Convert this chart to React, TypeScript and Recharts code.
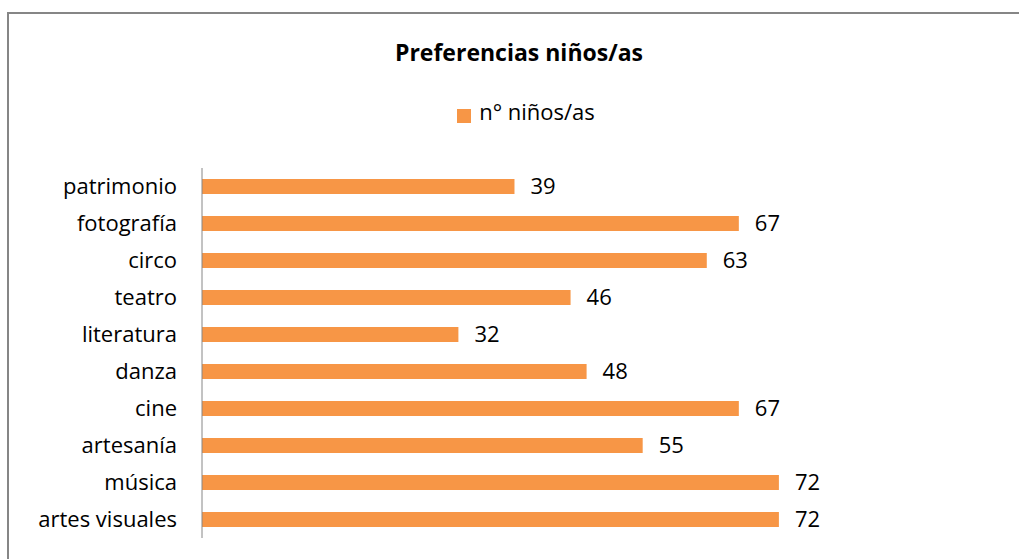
import { BarChart, Bar, XAxis, YAxis, Legend, LabelList } from 'recharts';

const categories = [
  'patrimonio',
  'fotografía',
  'circo',
  'teatro',
  'literatura',
  'danza',
  'cine',
  'artesanía',
  'música',
  'artes visuales',
];
const values = [39, 67, 63, 46, 32, 48, 67, 55, 72, 72];
const seriesName = 'n° niños/as';
const title = 'Preferencias niños/as';

const data = categories.map((c, i) => ({ name: c, value: values[i] }));

const font = '"Open Sans", "DejaVu Sans", sans-serif';

export default function App() {
  return (
    <div
      style={{
        position: 'absolute',
        left: 0,
        top: 0,
        width: 1019,
        height: 559,
        overflow: 'hidden',
        background: '#fff',
        fontFamily: font,
      }}
    >
      <div
        style={{
          position: 'absolute',
          left: 7,
          top: 12,
          width: 1100,
          height: 700,
          border: '2px solid #868686',
        }}
      />
      <div
        style={{
          position: 'absolute',
          left: 0,
          top: 36,
          width: 1038,
          textAlign: 'center',
          fontSize: 23,
          fontWeight: 'bold',
          color: '#000',
        }}
      >
        {title}
      </div>
      <div style={{ position: 'absolute', left: 0, top: 0 }}>
        <BarChart
          layout="vertical"
          width={1019}
          height={559}
          data={data}
          margin={{ top: 138, right: 176, bottom: 21, left: 0 }}
        >
          <XAxis type="number" domain={[0, 80]} hide />
          <YAxis
            type="category"
            dataKey="name"
            width={202}
            axisLine={{ stroke: '#868686', strokeWidth: 1 }}
            tickLine={false}
            tickMargin={19}
            tick={{ fill: '#000', fontSize: 22, fontFamily: font }}
            interval={0}
          />
          <Legend
            verticalAlign="top"
            iconType="square"
            iconSize={14}
            wrapperStyle={{ top: 96, left: 12, width: 1038 }}
            formatter={(v) => (
              <span style={{ color: '#000', fontSize: 22, fontFamily: font, marginLeft: 4 }}>{v}</span>
            )}
          />
          <Bar
            dataKey="value"
            name={seriesName}
            fill="#f79646"
            barSize={15}
            isAnimationActive={false}
          >
            <LabelList
              dataKey="value"
              position="right"
              offset={16}
              style={{ fill: '#000', fontSize: 22, fontFamily: font }}
            />
          </Bar>
        </BarChart>
      </div>
    </div>
  );
}
